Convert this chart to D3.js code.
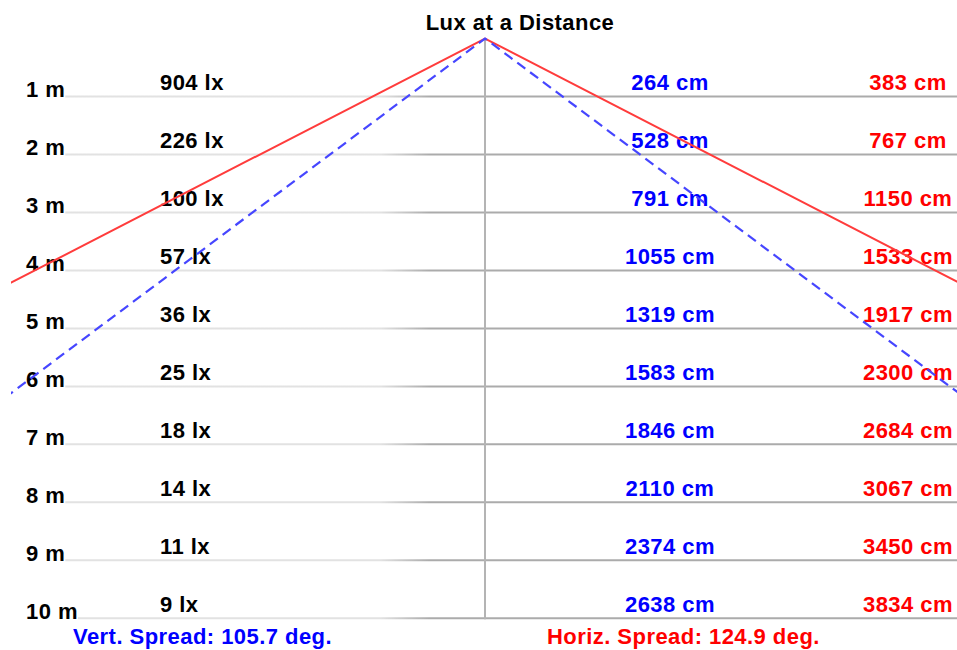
<!DOCTYPE html>
<html>
<head>
<meta charset="utf-8">
<script src="https://cdn.jsdelivr.net/npm/d3@7"></script>
<style>
  html, body { margin: 0; padding: 0; background: #fff; }
  svg { display: block; }
  text { font-family: "Liberation Sans", Arial, sans-serif; font-weight: bold; font-size: 22px; letter-spacing: 0.45px; }
</style>
</head>
<body>
<svg id="chart" width="957" height="650"></svg>
<script>
const title = "Lux at a Distance";
const distances = [1, 2, 3, 4, 5, 6, 7, 8, 9, 10];
const distanceLabels = ["1 m", "2 m", "3 m", "4 m", "5 m", "6 m", "7 m", "8 m", "9 m", "10 m"];
const luxValues = [904, 226, 100, 57, 36, 25, 18, 14, 11, 9];
const vertWidthsCm = [264, 528, 791, 1055, 1319, 1583, 1846, 2110, 2374, 2638];
const horizWidthsCm = [383, 767, 1150, 1533, 1917, 2300, 2684, 3067, 3450, 3834];
const vertSpreadDeg = 105.7;
const horizSpreadDeg = 124.9;

const svg = d3.select("#chart");
const W = 957, H = 650;

// distance (m) -> vertical pixel
const y = d3.scaleLinear().domain([0, 10]).range([38.5, 618.3]);
// lateral offset (m) -> horizontal pixel, apex at centre
const x = d3.scaleLinear().domain([0, 8]).range([485, 485 + 8 * 58.7]);

const defs = svg.append("defs");
defs.append("clipPath").attr("id", "clip")
  .append("rect").attr("x", 11).attr("y", 0).attr("width", W - 11).attr("height", H);
const grad = defs.append("linearGradient").attr("id", "gridGrad")
  .attr("gradientUnits", "userSpaceOnUse")
  .attr("x1", 0).attr("x2", W).attr("y1", 0).attr("y2", 0);
grad.append("stop").attr("offset", 380 / W).attr("stop-color", "#e2e2e2");
grad.append("stop").attr("offset", 430 / W).attr("stop-color", "#ababab");
grad.append("stop").attr("offset", 1).attr("stop-color", "#ababab");

// distance labels (left)
const mLabels = svg.append("g").selectAll("text").data(distances).join("text")
  .attr("x", 26)
  .attr("y", d => y(d) + 1)
  .attr("fill", "#000")
  .text((d, i) => distanceLabels[i]);

// grid lines start at end of distance label
const grid = svg.append("g");
mLabels.each(function (d) {
  const bb = this.getBBox();
  grid.append("line")
    .attr("x1", bb.x + bb.width).attr("x2", W)
    .attr("y1", y(d)).attr("y2", y(d))
    .attr("stroke", "url(#gridGrad)").attr("stroke-width", 2);
});

// centre vertical line
svg.append("line")
  .attr("x1", x(0)).attr("x2", x(0))
  .attr("y1", y(0)).attr("y2", y(10) + 1)
  .attr("stroke", "#b4b4b4").attr("stroke-width", 2);

// lux labels
svg.append("g").selectAll("text").data(distances).join("text")
  .attr("x", 160)
  .attr("y", d => y(d) - 6.5)
  .attr("fill", "#000")
  .text((d, i) => luxValues[i] + " lx");

// vertical widths (blue)
svg.append("g").selectAll("text").data(distances).join("text")
  .attr("x", 670).attr("text-anchor", "middle")
  .attr("y", d => y(d) - 6.5)
  .attr("fill", "#0000ff")
  .text((d, i) => vertWidthsCm[i] + " cm");

// horizontal widths (red)
svg.append("g").selectAll("text").data(distances).join("text")
  .attr("x", 908).attr("text-anchor", "middle")
  .attr("y", d => y(d) - 6.5)
  .attr("fill", "#ff0000")
  .text((d, i) => horizWidthsCm[i] + " cm");

// spread lines
const rad = a => a * Math.PI / 180;
function spreadPoints(deg) {
  const half = Math.tan(rad(deg / 2));
  const dMax = 10;
  return [[-dMax * half, dMax], [0, 0], [dMax * half, dMax]];
}
const lineGen = d3.line().x(p => x(p[0])).y(p => y(p[1]));
const lines = svg.append("g").attr("clip-path", "url(#clip)");
lines.append("path")
  .attr("d", lineGen(spreadPoints(horizSpreadDeg)))
  .attr("fill", "none").attr("stroke", "#ff3c3c").attr("stroke-width", 2);
lines.append("path")
  .attr("d", lineGen(spreadPoints(vertSpreadDeg)))
  .attr("fill", "none").attr("stroke", "#4646ff").attr("stroke-width", 2.2)
  .attr("stroke-dasharray", "10,6");

// title
svg.append("text")
  .attr("x", 520).attr("y", 30).attr("text-anchor", "middle")
  .attr("fill", "#000")
  .text(title);

// spread captions
svg.append("text")
  .attr("x", 73).attr("y", 644)
  .attr("fill", "#0000ff")
  .text("Vert. Spread: " + vertSpreadDeg + " deg.");
svg.append("text")
  .attr("x", 547).attr("y", 644)
  .attr("fill", "#ff0000")
  .text("Horiz. Spread: " + horizSpreadDeg + " deg.");
</script>
</body>
</html>
